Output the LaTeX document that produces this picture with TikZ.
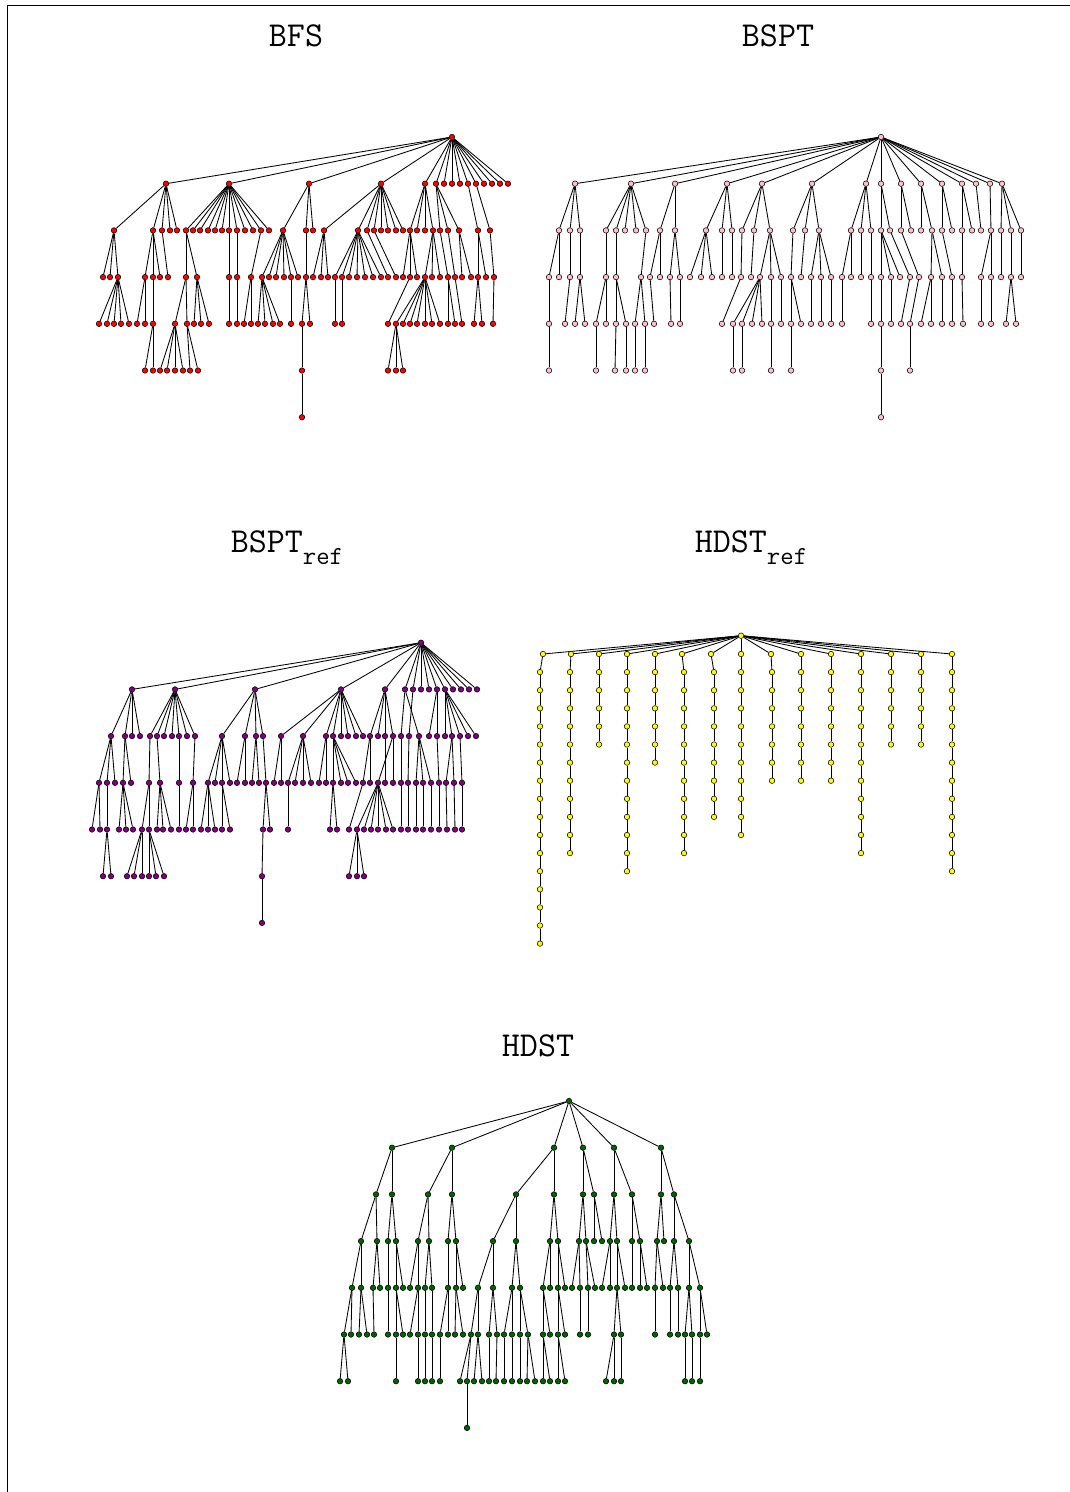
\documentclass[tikz,border=0pt]{standalone}
\usepackage{fontspec}
\definecolor{treered}{RGB}{255,0,0}
\definecolor{treepink}{RGB}{255,192,203}
\definecolor{treepurple}{RGB}{128,0,128}
\definecolor{treeyellow}{RGB}{255,255,0}
\definecolor{treegreen}{RGB}{0,100,0}
% #1 name prefix, #2 fill colour, #3 y of the root, #4 list level/x/parent-x
\newcommand\growtree[4]{%
  \foreach \tlv/\txx/\tpa in {#4} {%
    \pgfmathtruncatemacro\tpl{\tlv-1}%
    \node[vtx,fill=#2] (#1\tlv-\txx) at (\txx,{#3+\tlv*46.7}) {};%
    \draw[edge] (#1\tpl-\tpa) -- (#1\tlv-\txx);%
  }}
\begin{document}
\begin{tikzpicture}[x=1pt,y=-1pt,
  vtx/.style={circle,draw=black,line width=0.55pt,inner sep=0pt,minimum size=5.5pt},
  edge/.style={line width=0.85pt,draw=black},
  title/.style={font=\fontsize{35}{40}\selectfont\ttfamily,inner sep=0pt,anchor=base}]
\useasboundingbox (0,0) rectangle (1070,1492);
\draw[line width=0.8pt] (7,1492) -- (7,5) -- (1070,5);

% titles
\node[title] (tbfs) at (296,46) {BFS};
\node[title] (tbspt) at (778,46) {BSPT};
\node[title] (tbsptref) at (287,552) {BSPT\raisebox{-12pt}{\fontsize{26}{28}\selectfont ref}};
\node[title] (thdstref) at (751,552) {HDST\raisebox{-12pt}{\fontsize{26}{28}\selectfont ref}};
\node[title] (thdst) at (538,1056) {HDST};

% ---------------- BFS ----------------
\node[vtx,fill=treered] (f0-452) at (452,137) {};
\growtree{f}{treered}{137}{
1/166/452,1/229/452,1/309/452,1/381/452,1/425/452,1/436/452,1/444/452,1/452/452,1/460/452,1/468/452,1/476/452,1/484/452,1/492/452,1/500/452,1/508/452,
2/114/166,2/153/166,2/162/166,2/170/166,2/177/166,
2/186/229,2/193/229,2/200/229,2/208/229,2/215/229,2/222/229,2/229/229,2/237/229,2/245/229,2/253/229,2/261/229,2/269/229,
2/283/309,2/306/309,2/313/309,
2/324/381,2/358/381,2/367/381,2/374/381,2/381/381,2/388/381,2/396/381,2/403/381,
2/410/425,2/417/425,2/425/425,2/433/425,
2/440/436,2/448/436,2/459/436,
2/478/468,2/490/476,
3/103/114,3/110/114,3/118/114,
3/145/153,3/153/153,3/160/153,3/168/162,
3/186/186,3/197/186,3/229/229,3/237/237,3/251/261,
3/262/283,3/269/283,3/276/283,3/284/283,3/291/283,3/298/283,
3/306/306,3/313/324,3/321/324,3/328/324,
3/335/358,3/342/358,3/349/358,3/357/358,3/365/358,3/373/358,3/381/358,
3/388/367,3/396/374,
3/403/410,3/410/410,3/417/410,
3/425/433,3/432/433,3/440/433,
3/448/440,3/455/448,3/462/459,3/471/459,3/478/478,3/486/478,3/494/490,
4/99/118,4/107/118,4/114/118,4/121/118,4/129/118,
4/137/145,4/145/145,4/153/153,
4/175/186,4/187/186,4/194/197,4/201/197,4/209/197,
4/229/229,4/237/237,4/244/251,4/251/251,
4/258/262,4/265/262,4/273/262,4/280/262,
4/291/291,4/302/306,4/310/306,4/335/335,4/342/342,
4/388/410,
4/396/425,4/403/425,4/410/425,4/417/425,4/425/425,4/432/425,4/440/425,
4/448/448,4/455/448,4/462/455,4/474/478,4/482/478,4/493/494,
5/145/153,5/153/153,5/160/175,5/167/175,5/175/175,5/183/175,5/190/187,5/198/187,
5/302/302,5/388/396,5/396/396,5/403/396,
6/302/302}

% ---------------- BSPT ----------------
\node[vtx,fill=treepink] (p0-881) at (881,137) {};
\growtree{p}{treepink}{137}{
1/575/881,1/631/881,1/675/881,1/727/881,1/762/881,1/812/881,1/866/881,1/881/881,1/901/881,1/921/881,1/942/881,1/962/881,1/976/881,1/990/881,1/1002/881,
2/559/575,2/570/575,2/580/575,
2/606/631,2/616/631,2/625/631,2/636/631,2/646/631,
2/660/675,2/675/675,
2/706/727,2/722/727,2/732/727,
2/742/762,2/754/762,2/770/762,
2/793/812,2/805/812,2/819/812,
2/851/866,2/861/866,2/871/866,
2/881/881,2/890/881,2/901/901,2/911/901,2/921/921,2/932/921,
2/942/942,2/952/942,2/962/962,2/972/962,2/981/976,2/991/990,
2/1001/1002,2/1011/1002,2/1021/1002,
3/549/559,3/559/559,3/570/570,3/580/580,3/606/606,3/616/616,3/641/646,
3/650/660,3/660/660,3/670/675,3/680/675,
3/690/706,3/701/706,3/712/706,3/722/722,3/732/732,3/741/742,3/751/754,
3/760/770,3/771/770,3/781/770,3/791/793,3/801/805,
3/811/819,3/821/819,3/831/819,
3/842/851,3/851/851,3/861/861,3/871/871,
3/881/881,3/891/881,3/900/881,3/910/890,3/919/901,
3/931/932,3/942/932,3/952/942,3/962/962,
3/981/991,3/991/991,3/1001/1001,3/1011/1011,3/1021/1021,
4/549/549,4/565/570,4/575/580,4/585/580,
4/596/606,4/606/606,4/616/616,4/626/616,
4/635/641,4/645/641,4/654/650,4/671/670,4/680/680,
4/722/741,4/733/760,4/742/760,4/752/760,4/762/760,4/771/771,4/781/781,
4/791/791,4/801/791,4/811/811,4/821/821,4/831/831,4/842/842,
4/871/871,4/881/881,4/891/891,4/901/910,4/910/919,
4/921/931,4/931/931,4/942/942,4/952/952,4/963/962,
4/981/981,4/991/991,4/1006/1011,4/1016/1011,
5/549/549,5/596/596,5/615/616,5/626/626,5/635/635,5/645/645,
5/733/733,5/742/742,5/771/771,5/791/791,5/881/881,5/910/910,
6/881/881}

% ---------------- BSPT ref ----------------
\node[vtx,fill=treepurple] (q0-421) at (421,642.7) {};
\growtree{q}{treepurple}{642.7}{
1/132/421,1/175/421,1/255/421,1/341/421,1/385/421,1/405/421,1/413/421,1/421/421,1/429/421,1/437/421,1/445/421,1/453/421,1/461/421,1/469/421,1/477/421,
2/111/132,2/125/132,2/132/132,2/140/132,
2/150/175,2/157/175,2/164/175,2/172/175,2/179/175,2/187/175,2/195/175,
2/222/255,2/245/255,2/256/255,2/263/255,
2/281/341,2/303/341,2/326/341,2/333/341,2/341/341,2/348/341,2/356/341,2/363/341,
2/370/385,2/378/385,2/385/385,2/393/385,
2/401/405,2/419/405,2/409/413,
2/429/437,2/437/437,
2/445/445,2/452/445,2/460/445,2/468/445,2/476/445,
3/99/111,3/107/111,3/115/111,3/123/125,3/131/125,
3/149/150,3/160/157,3/179/179,3/193/195,
3/208/222,3/215/222,3/222/222,3/230/222,
3/237/245,3/245/245,3/252/256,3/259/256,3/266/263,
3/274/281,3/281/281,
3/288/303,3/295/303,3/303/303,3/311/303,
3/319/326,3/326/326,
3/333/333,3/341/333,3/348/333,3/356/333,
3/363/370,3/370/370,3/378/393,3/385/385,3/393/393,
3/401/401,3/408/409,3/416/419,3/423/419,3/431/419,
3/439/437,3/446/452,3/454/452,3/462/460,
4/92/99,4/100/99,4/107/107,
4/119/123,4/126/123,4/133/123,
4/142/149,4/149/149,4/157/160,4/163/160,4/171/160,
4/179/179,4/186/193,4/193/193,
4/201/208,4/208/208,4/215/208,4/222/222,4/230/222,
4/263/266,4/270/266,4/288/288,
4/330/333,4/337/333,4/349/363,
4/357/378,4/364/378,4/371/378,4/378/378,4/386/378,4/393/378,
4/401/401,4/408/408,4/416/416,4/423/423,4/431/431,4/439/439,4/447/446,4/455/454,4/462/462,
5/103/107,5/111/107,
5/127/142,5/134/142,5/142/142,
5/149/149,5/156/149,5/164/149,
5/262/263,
5/349/357,5/357/357,5/364/357,
6/262/262}

% ---------------- HDST ref (paths hanging from the root) ----------------
\node[vtx,fill=treeyellow] (y0) at (741,635.7) {};
\foreach \ch/\tx/\bx/\len in {1/543/540/17,2/571/570/12,3/599/599/6,4/627/627/13,
  5/655/655/7,6/682/684/12,7/711/714/10,8/741/741/11,9/771/772/8,10/801/801/8,
  11/831/831/8,12/861/861/12,13/891/891/6,14/921/921/6,15/952/952/13} {
  \node[vtx,fill=treeyellow] (y\ch-1) at (\tx,654) {};
  \draw[edge] (y0) -- (y\ch-1);
  \foreach \k in {2,...,\len} {
    \pgfmathtruncatemacro\kp{\k-1}
    \node[vtx,fill=treeyellow] (y\ch-\k) at (\bx,{654+(\k-1)*18.1}) {};
    \draw[edge] (y\ch-\kp) -- (y\ch-\k);
  }
}

% ---------------- HDST ----------------
\node[vtx,fill=treegreen] (g0-569) at (569,1101) {};
\growtree{g}{treegreen}{1101}{
1/392/569,1/452/569,1/554/569,1/583/569,1/614/569,1/661/569,
2/376/392,2/392/392,2/428/452,2/452/452,2/516/554,2/554/554,2/583/583,2/594/583,2/614/614,2/632/614,2/661/661,2/674/661,
3/361/376,3/377/376,3/388/392,3/396/392,3/418/428,3/429/428,3/448/452,3/456/452,3/493/516,3/516/516,
3/550/554,3/558/554,3/579/583,3/586/583,3/594/594,3/602/594,3/610/614,3/617/614,3/632/632,3/640/632,
3/657/661,3/664/661,3/674/674,3/689/674,
4/352/361,4/361/361,4/373/377,4/380/377,4/388/388,4/396/396,4/403/396,4/410/418,4/418/418,4/425/429,4/432/429,
4/448/448,4/456/456,4/463/456,4/478/493,4/493/493,4/512/516,4/520/516,4/543/550,4/550/550,4/558/558,4/565/558,
4/572/579,4/580/579,4/588/586,4/595/586,4/602/610,4/610/610,4/617/617,4/625/617,4/632/632,4/640/640,4/647/640,
4/655/657,4/663/657,4/670/674,4/678/674,4/689/689,4/700/689,
5/344/352,5/351/352,5/359/361,5/367/361,5/374/373,5/388/388,5/396/396,5/403/396,5/410/418,5/418/418,5/425/425,5/432/432,
5/440/448,5/448/448,5/455/456,5/463/456,5/471/478,5/478/478,5/489/493,5/497/493,5/504/512,5/512/512,5/520/520,5/528/520,
5/543/543,5/550/543,5/558/558,5/565/558,5/580/580,5/588/588,5/614/617,5/621/617,5/655/655,5/670/670,5/678/678,
5/685/689,5/692/689,5/700/700,5/707/700,
6/340/344,6/348/344,6/396/396,6/418/418,6/425/425,6/432/432,6/440/440,6/460/471,6/467/471,6/474/478,6/482/478,
6/489/489,6/496/497,6/504/504,6/512/512,6/520/520,6/527/528,6/535/528,6/543/543,6/550/543,6/558/558,6/565/558,
6/606/614,6/614/614,6/621/621,6/685/685,6/692/692,6/700/700,
7/467/467}
\end{tikzpicture}
\end{document}
